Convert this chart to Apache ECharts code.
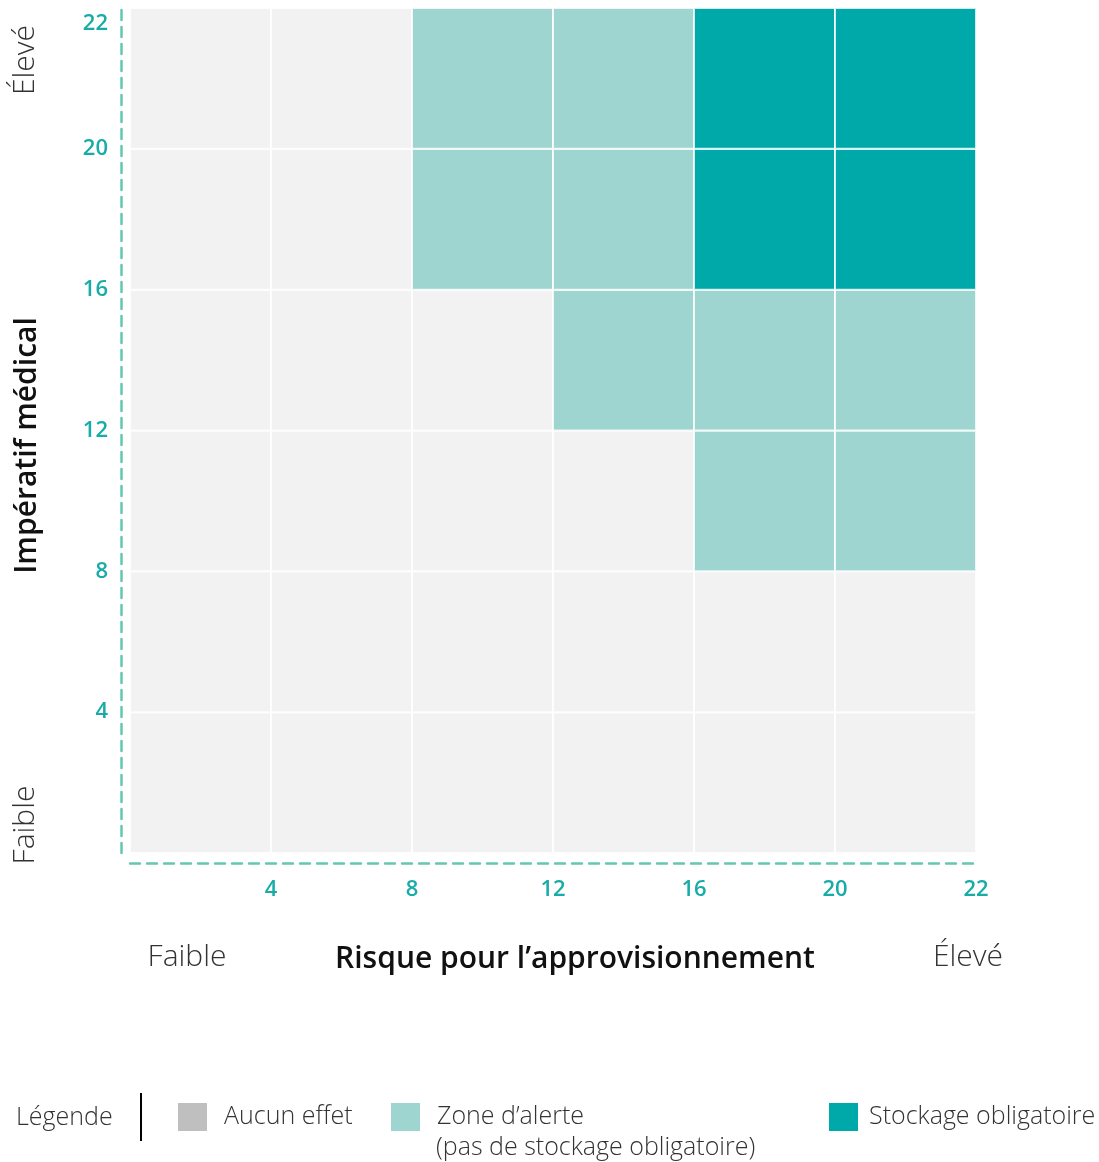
<!DOCTYPE html>
<html>
<head>
<meta charset="utf-8">
<script src="https://cdn.jsdelivr.net/npm/echarts@6/dist/echarts.min.js"></script>
<style>
html,body{margin:0;padding:0;background:#fff;}
#chart{width:1099px;height:1162px;}
</style>
</head>
<body>
<div id="chart"></div>
<script>
// Tick labels at cell boundaries (index 0..6)
const xTickLabels = ['', '4', '8', '12', '16', '20', '22'];
const yTickLabels = ['', '4', '8', '12', '16', '20', '22'];

// Zone per cell: rows from bottom (index 0) to top, columns left to right
// 0 = Aucun effet, 1 = Zone d'alerte, 2 = Stockage obligatoire
const zoneRows = [
  [0, 0, 0, 0, 0, 0],
  [0, 0, 0, 0, 0, 0],
  [0, 0, 0, 0, 1, 1],
  [0, 0, 0, 1, 1, 1],
  [0, 0, 1, 1, 2, 2],
  [0, 0, 1, 1, 2, 2]
];

const zoneNames = ['Aucun effet', 'Zone d’alerte', 'Stockage obligatoire'];
const zoneSubtitle = '(pas de stockage obligatoire)';
const zoneColors = ['#f2f2f2', '#9fd5d0', '#00a9a9'];
const legendColors = ['#bfbfbf', '#9fd5d0', '#00a9a9'];

const FONT = '"Open Sans", "Noto Sans", sans-serif';
const TEAL_TXT = '#17aca7';
const AXIS_LINE = '#63c7b3';

function cellsFor(zone) {
  const out = [];
  zoneRows.forEach((row, r) => row.forEach((z, c) => { if (z === zone) out.push([c, r]); }));
  return out;
}

function renderCell(params, api) {
  const c = api.value(0), r = api.value(1);
  const p0 = api.coord([c, r + 1]);
  const p1 = api.coord([c + 1, r]);
  return {
    type: 'rect',
    shape: { x: p0[0], y: p0[1], width: p1[0] - p0[0], height: p1[1] - p0[1] },
    style: { fill: api.visual('color'), stroke: 'rgba(255,255,255,0.8)', lineWidth: 2 }
  };
}

const chart = echarts.init(document.getElementById('chart'), null, { renderer: 'canvas' });

const legendLeft = [178, 391, 829];
const legendTextGap = [12, 12, 6];

const option = {
  animation: false,
  textStyle: { fontFamily: FONT },
  grid: { left: 130, right: 123, top: 8, bottom: 309, containLabel: false, outerBoundsMode: 'none' },
  xAxis: {
    type: 'value', min: 0, max: 6, interval: 1,
    offset: 10,
    axisLine: { show: true, onZero: false, lineStyle: { color: AXIS_LINE, width: 2.5, type: [10, 7] } },
    axisTick: { show: false },
    splitLine: { show: false },
    axisLabel: {
      color: TEAL_TXT, fontSize: 22, fontWeight: 600, fontFamily: FONT, margin: 16,
      formatter: v => xTickLabels[v] || ''
    },
    name: 'Risque pour l’approvisionnement',
    nameLocation: 'middle',
    nameGap: 81,
    nameTextStyle: { color: '#111', fontSize: 30, fontWeight: 600, fontFamily: FONT, padding: [0, 0, 0, 44] }
  },
  yAxis: {
    type: 'value', min: 0, max: 6, interval: 1,
    offset: 9,
    axisLine: { show: true, onZero: false, lineStyle: { color: AXIS_LINE, width: 2.5, type: [10, 7] } },
    axisTick: { show: false },
    splitLine: { show: false },
    axisLabel: {
      color: TEAL_TXT, fontSize: 22, fontWeight: 600, fontFamily: FONT, margin: 13,
      formatter: v => v === 6 ? '{top|' + yTickLabels[v] + '}' : (yTickLabels[v] || ''),
      rich: { top: { color: TEAL_TXT, fontSize: 22, fontWeight: 600, fontFamily: FONT, padding: [32, 0, 0, 0] } }
    },
    name: 'Impératif médical',
    nameLocation: 'middle',
    nameGap: 79,
    nameTextStyle: { color: '#111', fontSize: 30, fontWeight: 600, fontFamily: FONT, padding: [0, 30, 0, 0] }
  },
  legend: zoneNames.map((n, i) => ({
    data: [{ name: n, itemStyle: { color: legendColors[i] } }],
    left: legendLeft[i], top: 1103,
    padding: 0,
    icon: 'rect',
    itemWidth: 29, itemHeight: 28,
    selectedMode: false,
    textStyle: {
      fontSize: 25, fontWeight: 300, color: '#333', fontFamily: FONT,
      padding: [2, 0, 0, legendTextGap[i]]
    }
  })),
  graphic: [
    { type: 'text', x: 16, y: 1118, style: { text: 'Légende', fontSize: 25, fontWeight: 300, fill: '#333', fontFamily: FONT, verticalAlign: 'middle' } },
    { type: 'line', shape: { x1: 141, y1: 1093, x2: 141, y2: 1141 }, style: { stroke: '#000', lineWidth: 2 } },
    { type: 'text', x: 436, y: 1148, style: { text: zoneSubtitle, fontSize: 25, fontWeight: 300, fill: '#333', fontFamily: FONT, verticalAlign: 'middle' } },
    { type: 'text', x: 187, y: 957, style: { text: 'Faible', fontSize: 30, fontWeight: 300, fill: '#333', fontFamily: FONT, align: 'center', verticalAlign: 'middle' } },
    { type: 'text', x: 968, y: 957, style: { text: 'Élevé', fontSize: 30, fontWeight: 300, fill: '#333', fontFamily: FONT, align: 'center', verticalAlign: 'middle' } },
    { type: 'text', x: 25, y: 825, rotation: Math.PI / 2, style: { text: 'Faible', fontSize: 30, fontWeight: 300, fill: '#333', fontFamily: FONT, align: 'center', verticalAlign: 'middle' } },
    { type: 'text', x: 25, y: 60, rotation: Math.PI / 2, style: { text: 'Élevé', fontSize: 30, fontWeight: 300, fill: '#333', fontFamily: FONT, align: 'center', verticalAlign: 'middle' } }
  ],
  series: zoneNames.map((n, i) => ({
    name: n,
    type: 'custom',
    renderItem: renderCell,
    itemStyle: { color: zoneColors[i] },
    encode: { x: 0, y: 1 },
    data: cellsFor(i)
  }))
};

chart.setOption(option);
</script>
</body>
</html>
